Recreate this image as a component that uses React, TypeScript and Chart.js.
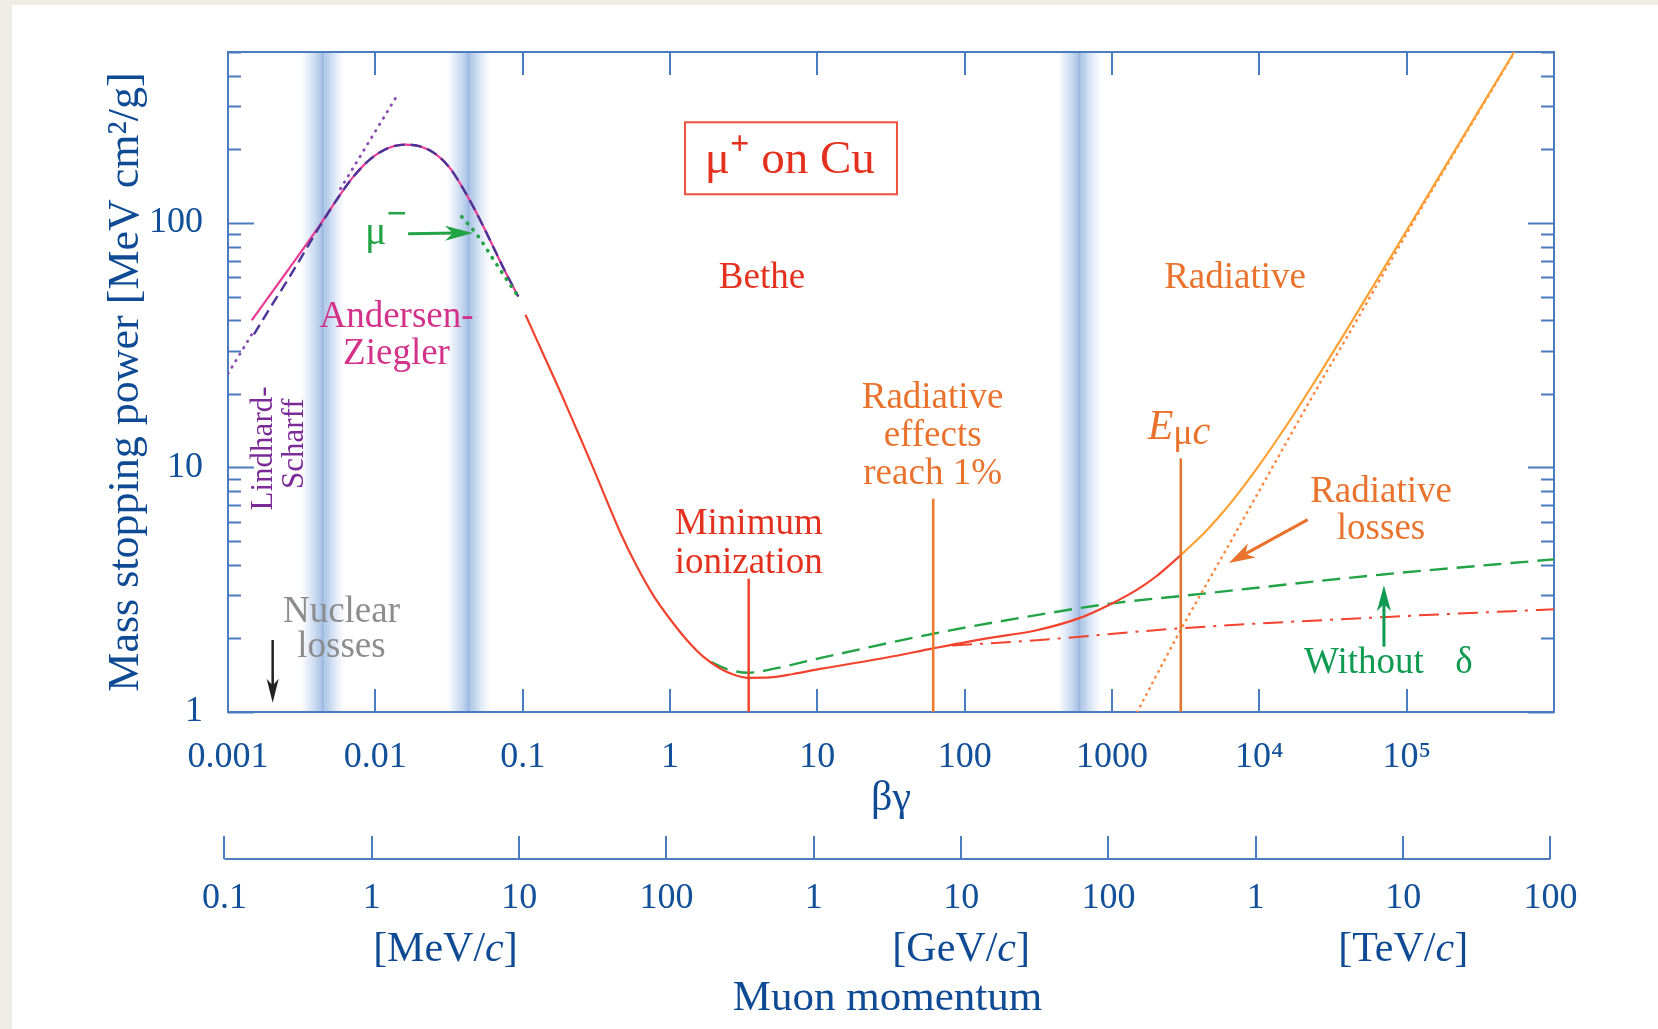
import React, { useEffect, useRef } from 'react';
import { Chart, registerables } from 'chart.js';

Chart.register(...registerables);

const SERIF = '"Liberation Serif", "Times New Roman", "DejaVu Serif", serif';
const MUON_MASS_MEV = 105.658;

// ---------- axes ----------
const X_MIN = 0.001;
const X_MAX = 1e6;
const Y_MIN = 1;
const Y_MAX = 500;
const X_TICKS = [1e-3, 1e-2, 1e-1, 1, 10, 100, 1000, 1e4, 1e5, 1e6];
const X_TICK_LABELS = ['0.001', '0.01', '0.1', '1', '10', '100', '1000', '10⁴', '10⁵', ''];
const Y_TICKS = [1, 2, 3, 4, 5, 6, 7, 8, 9, 10, 20, 30, 40, 50, 60, 70, 80, 90, 100, 200, 300, 400, 500];
const Y_LABELLED = [1, 10, 100];

const MOMENTUM_TICKS_MEV = [0.1, 1, 10, 100, 1e3, 1e4, 1e5, 1e6, 1e7, 1e8];
const MOMENTUM_TICK_LABELS = ['0.1', '1', '10', '100', '1', '10', '100', '1', '10', '100'];
const MOMENTUM_UNITS = ['MeV', 'GeV', 'TeV'];
const MOMENTUM_UNIT_AT_MEV = [3.16, 1e4, 1e7];

// shaded bands (βγ centres)
const BAND_CENTERS = [0.0044, 0.043, 600];

// ---------- curves (βγ, MeV cm²/g) ----------
const LS_BG = [0.001, 0.0015, 0.003, 0.0058, 0.0141];
const LS_Y = [24.2, 36.2, null, 138, 333];

const COMB_BG = [0.0015, 0.002, 0.0025, 0.003, 0.0042, 0.006, 0.0071, 0.0092, 0.0119, 0.0159, 0.0205, 0.0261, 0.032, 0.0376, 0.045, 0.054, 0.065, 0.0774, 0.0934];
const COMB_Y = [35, 46.5, 57.5, 69, 97, 135, 154.6, 181.8, 201, 209, 205, 190, 168, 145, 120, 97, 76.9, 62, 50];

const AZ_BG = [0.00145, 0.0025, 0.0042, 0.006, 0.0071, 0.0092, 0.0119, 0.0159, 0.0205, 0.0261, 0.032, 0.0376, 0.045, 0.054, 0.065, 0.0774, 0.0934];
const AZ_Y = [40, 63, 98, 135, 154.6, 181.8, 201, 209, 205, 190, 168, 145, 120, 97, 76.9, 62, 50];

const MUMINUS_BG = [0.0386, 0.05, 0.0632, 0.0774, 0.0934];
const MUMINUS_Y = [106, 88, 71, 59, 50];

const BETHE_BG = [0.1045, 0.14, 0.18, 0.235, 0.296, 0.38, 0.458, 0.594, 0.77, 1.0, 1.3, 1.68, 2.18, 2.69, 3.4, 4.77, 6.87, 10.4, 29.6, 61.2, 141, 308, 600, 1000, 1500, 2000, 2930];
const BETHE_Y = [42.1, 28.5, 20.4, 14.1, 10.2, 7.1, 5.45, 3.95, 3.0, 2.4, 1.97, 1.685, 1.51, 1.424, 1.38, 1.385, 1.43, 1.5, 1.67, 1.82, 2.0, 2.16, 2.42, 2.78, 3.18, 3.59, 4.38];

const TOTAL_BG = [2930, 3500, 4500, 5770, 7500, 9930, 16100, 24600, 38200, 60000, 105000, 200000, 537000];
const TOTAL_Y = [4.38, 4.84, 5.62, 6.65, 8.1, 10.17, 15.56, 23.2, 35.6, 55.9, 97.8, 186.3, 500];

const RAD_BG = [1483, 2000, 2930, 6120, 14300, 26100, 38200, 105000, 537000];
const RAD_Y = [1, 1.41, 2.17, 4.75, 11.8, 22.4, 33.1, 95.3, 497];

const NODELTA_BG = [1.9, 2.5, 3.4, 5, 10.4, 61.2, 308, 1000, 2930, 68700, 1e6];
const NODELTA_Y = [1.6, 1.49, 1.447, 1.5, 1.66, 2.09, 2.49, 2.78, 2.98, 3.65, 4.21];

const ION_BG = [82, 324, 2930, 1e5, 1e6];
const ION_Y = [1.87, 1.97, 2.2, 2.47, 2.63];

// vertical markers: βγ and top value
const MIN_ION_BG = 3.42;
const MIN_ION_TOP = 3.51;
const RAD1_BG = 61.2;
const RAD1_TOP = 7.45;
const EMUC_BG = 2930;
const EMUC_TOP = 10.9;

// ---------- styles ----------
const C = {
  axis: '#4b7cc0',
  tickText: '#13509a',
  title: '#0f4b95',
  red: '#f2432e',
  redText: '#e4311f',
  orange: '#ffa033',
  orangeDot: '#ff8840',
  orangeText: '#e9722c',
  orangeVLine: '#f0782e',
  emucLine: '#e0742e',
  green: '#22a446',
  greenText: '#0f9a52',
  pink: '#ec3c94',
  pinkText: '#d4318a',
  purpleDot: '#8a48b2',
  purpleDash: '#4b3497',
  purpleText: '#7c2a97',
  gray: '#8c8c8c',
  black: '#222222',
};

const pts = (xs: number[], ys: (number | null)[]) => xs.map((x, i) => ({ x, y: ys[i] }));

function curve(data: any[], color: string, width: number, dash: number[] = [], extra: any = {}) {
  return {
    data,
    borderColor: color,
    borderWidth: width,
    borderDash: dash,
    pointRadius: 0,
    pointHoverRadius: 0,
    fill: false,
    tension: 0,
    cubicInterpolationMode: 'monotone',
    spanGaps: false,
    ...extra,
  };
}
const straight = { cubicInterpolationMode: 'default', tension: 0 };

const datasets = [
  curve(pts([EMUC_BG, EMUC_BG], [Y_MIN, EMUC_TOP]), C.emucLine, 2.5, [], straight),
  curve(pts([RAD1_BG, RAD1_BG], [Y_MIN, RAD1_TOP]), C.orangeVLine, 2.5, [], straight),
  curve(pts([MIN_ION_BG, MIN_ION_BG], [Y_MIN, MIN_ION_TOP]), C.red, 2.5, [], straight),
  curve(pts(TOTAL_BG, TOTAL_Y), C.orange, 2.2),
  curve(pts(BETHE_BG, BETHE_Y), C.red, 2.2),
  curve(pts(RAD_BG, RAD_Y), C.orangeDot, 2.6, [0.5, 6], { borderCapStyle: 'round' }),
  curve(pts(ION_BG, ION_Y), C.red, 2, [20, 8, 3, 8]),
  curve(pts(NODELTA_BG, NODELTA_Y), C.green, 2.4, [18, 9]),
  curve(pts(MUMINUS_BG, MUMINUS_Y), C.green, 3.6, [0.5, 8], { borderCapStyle: 'round' }),
  curve(pts(COMB_BG, COMB_Y), C.purpleDash, 2.4, [11, 6]),
  curve(pts(AZ_BG, AZ_Y), C.pink, 2.2),
  curve(pts(LS_BG, LS_Y), C.purpleDot, 2.8, [0.5, 7], { ...straight, borderCapStyle: 'round' }),
];

// ---------- annotations (data coordinates) ----------
type Seg = { t: string; size?: number; italic?: boolean; bold?: boolean; dy?: number };
const LABELS: { segs: Seg[]; x: number; y: number; color: string; size: number; rotate?: boolean }[] = [
  { segs: [{ t: 'Bethe' }], x: 4.21, y: 54.3, color: C.redText, size: 37 },
  { segs: [{ t: 'Radiative' }], x: 6840, y: 54.3, color: C.orangeText, size: 37 },
  { segs: [{ t: 'Andersen-' }], x: 0.01392, y: 37.6, color: C.pinkText, size: 37 },
  { segs: [{ t: 'Ziegler' }], x: 0.01392, y: 26.6, color: C.pinkText, size: 37 },
  { segs: [{ t: 'Nuclear' }], x: 0.00589, y: 2.33, color: C.gray, size: 37 },
  { segs: [{ t: 'losses' }], x: 0.00589, y: 1.677, color: C.gray, size: 37 },
  { segs: [{ t: 'Minimum' }], x: 3.42, y: 5.33, color: C.redText, size: 37 },
  { segs: [{ t: 'ionization' }], x: 3.42, y: 3.69, color: C.redText, size: 37 },
  { segs: [{ t: 'Radiative' }], x: 60.6, y: 17.5, color: C.orangeText, size: 37 },
  { segs: [{ t: 'effects' }], x: 60.6, y: 12.24, color: C.orangeText, size: 37 },
  { segs: [{ t: 'reach 1%' }], x: 60.6, y: 8.55, color: C.orangeText, size: 37 },
  { segs: [{ t: 'E', italic: true, size: 42 }, { t: 'μ', size: 36, dy: 5 }, { t: 'c', italic: true, size: 40, dy: 5 }], x: 2850, y: 13.13, color: C.orangeText, size: 40 },
  { segs: [{ t: 'Radiative' }], x: 67000, y: 7.22, color: C.orangeText, size: 37 },
  { segs: [{ t: 'losses' }], x: 67000, y: 5.12, color: C.orangeText, size: 37 },
  { segs: [{ t: 'Without' }], x: 51340, y: 1.438, color: C.greenText, size: 37 },
  { segs: [{ t: 'δ' }], x: 245000, y: 1.438, color: C.greenText, size: 37 },
  { segs: [{ t: 'μ' }, { t: '−', size: 36, bold: true, dy: -19 }], x: 0.01181, y: 82.1, color: C.green, size: 40 },
  { segs: [{ t: 'μ' }, { t: '+', size: 34, bold: true, dy: -19 }, { t: ' on Cu' }], x: 6.5, y: 160.4, color: C.redText, size: 47 },
  { segs: [{ t: 'Lindhard-' }], x: 0.00199, y: 11.96, color: C.purpleText, size: 31, rotate: true },
  { segs: [{ t: 'Scharff' }], x: 0.00323, y: 12.5, color: C.purpleText, size: 31, rotate: true },
];

// title box corners (βγ, value)
const BOX_X = [1.264, 34.7];
const BOX_Y = [131, 258];

const ARROWS = [
  { from: [0.0167, 90.4], to: [0.046, 91], color: C.green, lw: 3, head: 28, half: 7.5 },
  { from: [21300, 6.12], to: [6220, 4.07], color: C.orangeText, lw: 3, head: 26, half: 8 },
  { from: [70100, 1.85], to: [70100, 3.3], color: C.greenText, lw: 3, head: 26, half: 7 },
  { from: [0.00201, 1.97], to: [0.00201, 1.09], color: C.black, lw: 2.5, head: 24, half: 6 },
];

function fontOf(size: number, italic?: boolean, bold?: boolean) {
  return `${italic ? 'italic ' : ''}${bold ? 'bold ' : ''}${size}px ${SERIF}`;
}

function drawRich(ctx: CanvasRenderingContext2D, segs: Seg[], cx: number, by: number, base: number, color: string) {
  ctx.fillStyle = color;
  ctx.textBaseline = 'alphabetic';
  ctx.textAlign = 'left';
  let w = 0;
  for (const s of segs) {
    ctx.font = fontOf(s.size || base, s.italic, s.bold);
    w += ctx.measureText(s.t).width;
  }
  let x = cx - w / 2;
  for (const s of segs) {
    ctx.font = fontOf(s.size || base, s.italic, s.bold);
    ctx.fillText(s.t, x, by + (s.dy || 0));
    x += ctx.measureText(s.t).width;
  }
}

function drawArrow(ctx: CanvasRenderingContext2D, x1: number, y1: number, x2: number, y2: number, color: string, lw: number, head: number, half: number) {
  const a = Math.atan2(y2 - y1, x2 - x1);
  const ca = Math.cos(a);
  const sa = Math.sin(a);
  const bx = x2 - head * ca;
  const by = y2 - head * sa;
  ctx.strokeStyle = color;
  ctx.fillStyle = color;
  ctx.lineWidth = lw;
  ctx.beginPath();
  ctx.moveTo(x1, y1);
  ctx.lineTo(x2 - head * 0.6 * ca, y2 - head * 0.6 * sa);
  ctx.stroke();
  ctx.beginPath();
  ctx.moveTo(x2, y2);
  ctx.lineTo(bx + half * sa, by - half * ca);
  ctx.lineTo(x2 - head * 0.72 * ca, y2 - head * 0.72 * sa);
  ctx.lineTo(bx - half * sa, by + half * ca);
  ctx.closePath();
  ctx.fill();
}

const bandsAndFrame = {
  id: 'bandsAndFrame',
  beforeDatasetsDraw(chart: any) {
    const { ctx, chartArea: a, scales } = chart;
    const x = scales.x;
    const y = scales.y;
    ctx.save();
    ctx.beginPath();
    ctx.rect(a.left, a.top, a.right - a.left, a.bottom - a.top);
    ctx.clip();
    const halfDec = 0.15;
    for (const c of BAND_CENTERS) {
      const l = x.getPixelForValue(c / Math.pow(10, halfDec));
      const r = x.getPixelForValue(c * Math.pow(10, halfDec));
      const g = ctx.createLinearGradient(l, 0, r, 0);
      g.addColorStop(0, 'rgba(205,222,242,0)');
      g.addColorStop(0.2, 'rgba(196,214,239,0.55)');
      g.addColorStop(0.4, 'rgba(178,201,233,0.9)');
      g.addColorStop(0.47, 'rgba(170,195,230,1)');
      g.addColorStop(0.5, 'rgba(150,180,222,1)');
      g.addColorStop(0.53, 'rgba(176,199,232,1)');
      g.addColorStop(0.62, 'rgba(182,204,234,0.9)');
      g.addColorStop(0.8, 'rgba(198,216,240,0.5)');
      g.addColorStop(1, 'rgba(205,222,242,0)');
      ctx.fillStyle = g;
      ctx.fillRect(l, a.top, r - l, a.bottom - a.top);
    }
    ctx.restore();

    ctx.save();
    ctx.strokeStyle = C.axis;
    ctx.lineWidth = 2;
    ctx.strokeRect(a.left, a.top, a.right - a.left, a.bottom - a.top);
    ctx.beginPath();
    for (const v of X_TICKS) {
      const px = Math.round(x.getPixelForValue(v));
      ctx.moveTo(px, a.top);
      ctx.lineTo(px, a.top + 23);
      ctx.moveTo(px, a.bottom);
      ctx.lineTo(px, a.bottom - 23);
    }
    for (const v of Y_TICKS) {
      const py = Math.round(y.getPixelForValue(v)) + 0.5;
      const len = Y_LABELLED.includes(v) ? 26 : 13;
      ctx.moveTo(a.left, py);
      ctx.lineTo(a.left + len, py);
      ctx.moveTo(a.right, py);
      ctx.lineTo(a.right - len, py);
    }
    ctx.stroke();
    ctx.restore();
  },
};

const annotations = {
  id: 'annotations',
  afterDatasetsDraw(chart: any) {
    const { ctx, scales } = chart;
    const x = scales.x;
    const y = scales.y;
    ctx.save();
    for (const L of LABELS) {
      const px = x.getPixelForValue(L.x);
      const py = y.getPixelForValue(L.y);
      if (L.rotate) {
        ctx.save();
        ctx.translate(px, py);
        ctx.rotate(-Math.PI / 2);
        drawRich(ctx, L.segs, 0, 0, L.size, L.color);
        ctx.restore();
      } else {
        drawRich(ctx, L.segs, px, py, L.size, L.color);
      }
    }
    const bl = x.getPixelForValue(BOX_X[0]);
    const br = x.getPixelForValue(BOX_X[1]);
    const bt = y.getPixelForValue(BOX_Y[1]);
    const bb = y.getPixelForValue(BOX_Y[0]);
    ctx.strokeStyle = '#f0503e';
    ctx.lineWidth = 2;
    ctx.strokeRect(bl, bt, br - bl, bb - bt);
    for (const A of ARROWS) {
      drawArrow(
        ctx,
        x.getPixelForValue(A.from[0]), y.getPixelForValue(A.from[1]),
        x.getPixelForValue(A.to[0]), y.getPixelForValue(A.to[1]),
        A.color, A.lw, A.head, A.half,
      );
    }
    ctx.restore();
  },
};

const momentumAxis = {
  id: 'momentumAxis',
  afterDraw(chart: any) {
    const { ctx, chartArea: a, scales } = chart;
    const x = scales.x;
    const px = (p: number) => x.getPixelForValue(p / MUON_MASS_MEV);
    const yLine = a.bottom + 147;
    const xs = MOMENTUM_TICKS_MEV.map(px);
    ctx.save();
    ctx.strokeStyle = C.axis;
    ctx.lineWidth = 2;
    ctx.beginPath();
    ctx.moveTo(xs[0], yLine);
    ctx.lineTo(xs[xs.length - 1], yLine);
    for (const t of xs) {
      const r = Math.round(t);
      ctx.moveTo(r, yLine);
      ctx.lineTo(r, yLine - 23);
    }
    ctx.stroke();
    MOMENTUM_TICK_LABELS.forEach((lab, i) => {
      drawRich(ctx, [{ t: lab }], xs[i], yLine + 49, 36, C.tickText);
    });
    MOMENTUM_UNITS.forEach((u, i) => {
      drawRich(ctx, [{ t: `[${u}/` }, { t: 'c', italic: true }, { t: ']' }], px(MOMENTUM_UNIT_AT_MEV[i]), yLine + 102, 42, C.title);
    });
    drawRich(ctx, [{ t: 'Muon momentum' }], (xs[0] + xs[xs.length - 1]) / 2, yLine + 151, 43, C.title);
    ctx.restore();
  },
};

export default function App() {
  const ref = useRef<HTMLCanvasElement>(null);
  useEffect(() => {
    const canvas = ref.current;
    if (!canvas) return;
    const chart = new Chart(canvas, {
      type: 'line',
      data: { datasets: datasets as any },
      options: {
        responsive: false,
        animation: false,
        devicePixelRatio: 1,
        events: [],
        layout: { padding: { left: 0, top: 52, right: 104, bottom: 205 } },
        plugins: { legend: { display: false }, tooltip: { enabled: false } },
        scales: {
          x: {
            type: 'logarithmic',
            position: 'bottom',
            min: X_MIN,
            max: X_MAX,
            afterBuildTicks: (s: any) => { s.ticks = X_TICKS.map((v) => ({ value: v })); },
            afterFit: (s: any) => { s.height = 112; },
            grid: { display: false, drawTicks: false },
            border: { display: false },
            ticks: {
              autoSkip: false,
              maxRotation: 0,
              minRotation: 0,
              padding: 24,
              color: C.tickText,
              font: { family: SERIF, size: 36 },
              callback: (_v: any, i: number) => X_TICK_LABELS[i],
            },
            title: { display: true, text: 'βγ', color: C.title, font: { family: SERIF, size: 42 }, padding: { top: 0, bottom: 0 } },
          },
          y: {
            type: 'logarithmic',
            position: 'left',
            min: Y_MIN,
            max: Y_MAX,
            afterBuildTicks: (s: any) => { s.ticks = Y_TICKS.map((v) => ({ value: v })); },
            afterFit: (s: any) => { s.width = 228; },
            grid: { display: false, drawTicks: false },
            border: { display: false },
            ticks: {
              autoSkip: false,
              padding: 25,
              color: C.tickText,
              font: { family: SERIF, size: 36 },
              callback: (v: any) => (Y_LABELLED.includes(Number(v)) ? String(v) : ''),
            },
            title: { display: true, text: 'Mass stopping power [MeV cm²/g]', color: C.title, font: { family: SERIF, size: 44 }, padding: { top: 100, bottom: 0 } },
          },
        },
      } as any,
      plugins: [bandsAndFrame, annotations, momentumAxis],
    });
    return () => chart.destroy();
  }, []);

  return (
    <div style={{ position: 'fixed', left: 0, top: 0, width: 1658, height: 1029, background: '#efece5', overflow: 'hidden' }}>
      <div style={{ position: 'absolute', left: 12, top: 5, right: 0, bottom: 0, background: '#ffffff' }} />
      <canvas ref={ref} width={1658} height={1029} style={{ position: 'absolute', left: 0, top: 0, width: 1658, height: 1029 }} />
    </div>
  );
}
